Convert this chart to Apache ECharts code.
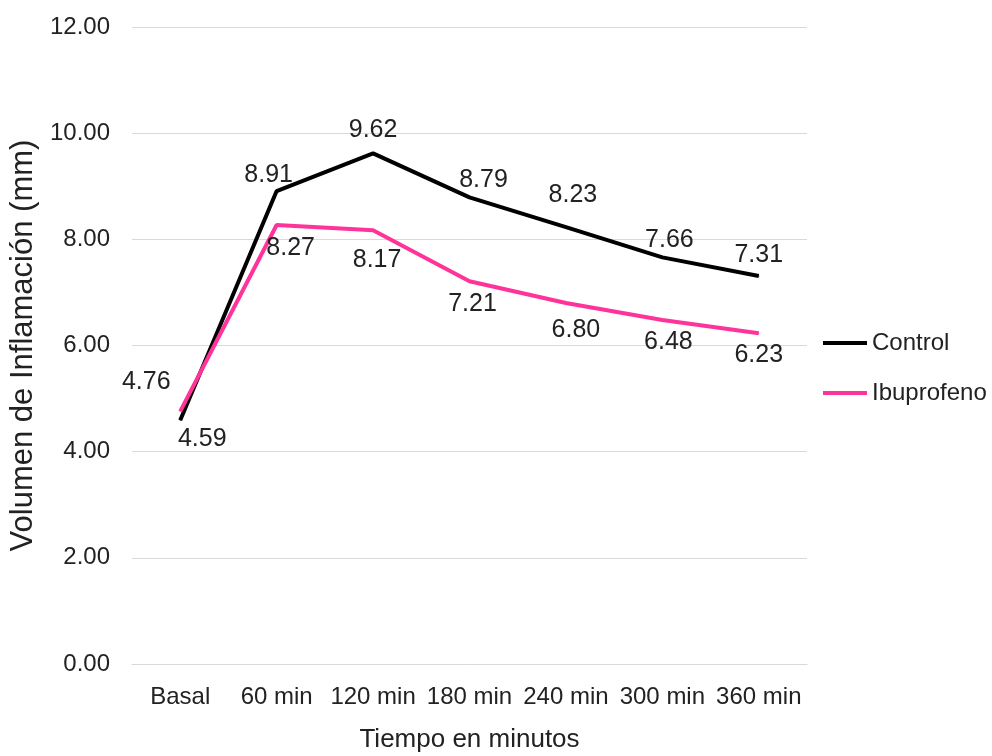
<!DOCTYPE html>
<html>
<head>
<meta charset="utf-8">
<script src="https://cdn.jsdelivr.net/npm/echarts@6/dist/echarts.min.js"></script>
<style>
  html, body { margin: 0; padding: 0; background: #fff; }
  #chart { width: 992px; height: 756px; }
</style>
</head>
<body>
<div id="chart"></div>
<script>
// Tiempo de medición
const categories = ['Basal', '60 min', '120 min', '180 min', '240 min', '300 min', '360 min'];
// Volumen de inflamación (mm)
const controlValues = [4.59, 8.91, 9.62, 8.79, 8.23, 7.66, 7.31];
const ibuprofenoValues = [4.76, 8.27, 8.17, 7.21, 6.80, 6.48, 6.23];
const yTicks = [0, 2, 4, 6, 8, 10, 12];

const FONT = "'Liberation Sans', Arial, sans-serif";
const TEXT = '#222222';

// label placement per point, relative to the point
const controlLabelShift = [[22, 19], [-8, -16], [0, -23], [14, -17], [7, -32], [7, -17], [0, -21]];
const ibuLabelShift = [[-34, -29], [14, 23], [4, 30], [3, 23], [10, 27], [6, 22], [0, 22]];

function withLabels(values, shifts) {
  return values.map((v, i) => ({
    value: v,
    label: { position: 'inside', offset: shifts[i] }
  }));
}

const chart = echarts.init(document.getElementById('chart'), null, { renderer: 'canvas' });
chart.setOption({
  animation: false,
  backgroundColor: '#fff',
  grid: { left: 132, right: 185, top: 27, bottom: 92, containLabel: false, outerBoundsMode: 'none' },
  legend: {
    orient: 'vertical',
    left: 818,
    top: 326,
    icon: 'rect',
    itemWidth: 44,
    itemHeight: 4,
    itemGap: 26,
    textStyle: { fontFamily: FONT, fontSize: 24, color: TEXT },
    data: ['Control', 'Ibuprofeno']
  },
  xAxis: {
    type: 'category',
    data: categories,
    boundaryGap: true,
    axisLine: { show: true, lineStyle: { color: '#d9d9d9', width: 1 } },
    axisTick: { show: false },
    axisLabel: { fontFamily: FONT, fontSize: 24, color: TEXT, margin: 21, interval: 0 },
    name: 'Tiempo en minutos',
    nameLocation: 'middle',
    nameGap: 63,
    nameTextStyle: { fontFamily: FONT, fontSize: 26, color: TEXT }
  },
  yAxis: {
    type: 'value',
    min: yTicks[0],
    max: yTicks[yTicks.length - 1],
    interval: yTicks[1] - yTicks[0],
    axisLine: { show: false },
    axisTick: { show: false },
    splitLine: { lineStyle: { color: '#d9d9d9', width: 1 } },
    axisLabel: {
      fontFamily: FONT, fontSize: 24, color: TEXT, margin: 22,
      formatter: v => v.toFixed(2)
    },
    name: 'Volumen de Inflamación (mm)',
    nameLocation: 'middle',
    nameGap: 81,
    nameTextStyle: { fontFamily: FONT, fontSize: 31, color: TEXT }
  },
  series: [
    {
      name: 'Control',
      type: 'line',
      data: withLabels(controlValues, controlLabelShift),
      symbol: 'circle',
      symbolSize: 1,
      itemStyle: { color: '#000000' },
      lineStyle: { color: '#000000', width: 4 },
      label: {
        show: true,
        fontFamily: FONT, fontSize: 25, color: TEXT,
        formatter: p => p.value.toFixed(2)
      },
      z: 3
    },
    {
      name: 'Ibuprofeno',
      type: 'line',
      data: withLabels(ibuprofenoValues, ibuLabelShift),
      symbol: 'circle',
      symbolSize: 1,
      itemStyle: { color: '#ff3399' },
      lineStyle: { color: '#ff3399', width: 4 },
      label: {
        show: true,
        fontFamily: FONT, fontSize: 25, color: TEXT,
        formatter: p => p.value.toFixed(2)
      },
      z: 4
    }
  ]
});
</script>
</body>
</html>
